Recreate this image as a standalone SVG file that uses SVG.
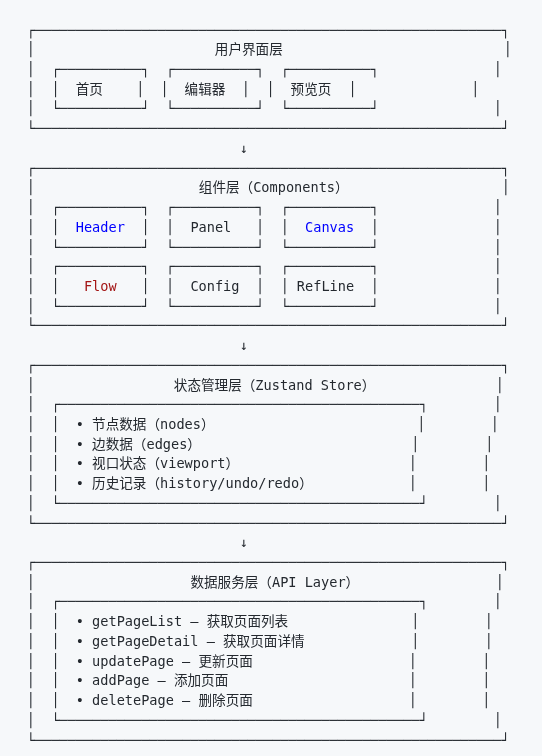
<svg xmlns="http://www.w3.org/2000/svg" width="542" height="756" viewBox="0 0 542 756" xml:space="preserve">
<style>
text{font-family:"DejaVu Sans Mono","Noto Sans CJK SC",monospace;font-size:13.6px;fill:#24292f;white-space:pre}
.blue{fill:#0000ff}
.red{fill:#a31515}
</style>
<defs>
<filter id="gray" x="0" y="0" width="542" height="756" filterUnits="userSpaceOnUse"><feOffset dx="0" dy="0"/></filter>
</defs>
<rect width="542" height="756" fill="#f6f8fa"/>
<g filter="url(#gray)">
<g id="layer-ui">
<text x="26.6" y="34.6">┌─────────────────────────────────────────────────────────┐</text>
<text x="26.6" y="54.32">│</text><text x="214.8" y="54.32">用户界面层</text><text x="503.6" y="54.32">│</text>
<text x="26.6" y="74.04">│</text><text x="493.43" y="74.04">│</text>
<text x="26.6" y="93.76">│</text><text x="470.9" y="93.76">│</text>
<text x="26.6" y="113.48">│</text><text x="493.43" y="113.48">│</text>
<text x="26.6" y="133.2">└─────────────────────────────────────────────────────────┘</text>
</g>
<g id="node-home">
<text x="51.17" y="74.04">┌──────────┐</text>
<text x="51.17" y="93.76">│</text><text x="75.74" y="93.76">首页</text><text x="135.9" y="93.76">│</text>
<text x="51.17" y="113.48">└──────────┘</text>
</g>
<g id="node-editor">
<text x="165.83" y="74.04">┌──────────┐</text>
<text x="160.2" y="93.76">│</text><text x="184.6" y="93.76">编辑器</text><text x="241.6" y="93.76">│</text>
<text x="165.83" y="113.48">└──────────┘</text>
</g>
<g id="node-preview">
<text x="280.49" y="74.04">┌──────────┐</text>
<text x="266.2" y="93.76">│</text><text x="290.6" y="93.76">预览页</text><text x="348.2" y="93.76">│</text>
<text x="280.49" y="113.48">└──────────┘</text>
</g>

<g id="layer-components">
<text x="26.6" y="172.64">┌─────────────────────────────────────────────────────────┐</text>
<text x="26.6" y="192.36">│</text><text x="198.8" y="192.36">组件层（Components）</text><text x="501.6" y="192.36">│</text>
<text x="26.6" y="212.08">│</text><text x="493.43" y="212.08">│</text>
<text x="26.6" y="231.8">│</text><text x="493.43" y="231.8">│</text>
<text x="26.6" y="251.52">│</text><text x="493.43" y="251.52">│</text>
<text x="26.6" y="271.24">│</text><text x="493.43" y="271.24">│</text>
<text x="26.6" y="290.96">│</text><text x="493.43" y="290.96">│</text>
<text x="26.6" y="310.68">│</text><text x="493.43" y="310.68">│</text>
<text x="26.6" y="330.4">└─────────────────────────────────────────────────────────┘</text>
</g>
<g id="node-header">
<text x="51.17" y="212.08">┌──────────┐</text>
<text x="51.17" y="231.8">│  <tspan class="blue">Header</tspan>  │</text>
<text x="51.17" y="251.52">└──────────┘</text>
</g>
<g id="node-panel">
<text x="165.83" y="212.08">┌──────────┐</text>
<text x="165.83" y="231.8">│  Panel   │</text>
<text x="165.83" y="251.52">└──────────┘</text>
</g>
<g id="node-canvas">
<text x="280.49" y="212.08">┌──────────┐</text>
<text x="280.49" y="231.8">│  <tspan class="blue">Canvas</tspan>  │</text>
<text x="280.49" y="251.52">└──────────┘</text>
</g>
<g id="node-flow">
<text x="51.17" y="271.24">┌──────────┐</text>
<text x="51.17" y="290.96">│   <tspan class="red">Flow</tspan>   │</text>
<text x="51.17" y="310.68">└──────────┘</text>
</g>
<g id="node-config">
<text x="165.83" y="271.24">┌──────────┐</text>
<text x="165.83" y="290.96">│  Config  │</text>
<text x="165.83" y="310.68">└──────────┘</text>
</g>
<g id="node-refline">
<text x="280.49" y="271.24">┌──────────┐</text>
<text x="280.49" y="290.96">│ RefLine  │</text>
<text x="280.49" y="310.68">└──────────┘</text>
</g>

<g id="layer-store">
<text x="26.6" y="369.84">┌─────────────────────────────────────────────────────────┐</text>
<text x="26.6" y="389.56">│</text><text x="173.8" y="389.56">状态管理层（Zustand Store）</text><text x="495.6" y="389.56">│</text>
<text x="26.6" y="409.28">│</text><text x="493.43" y="409.28">│</text>
<text x="26.6" y="429">│</text><text x="490.6" y="429">│</text>
<text x="26.6" y="448.72">│</text><text x="484.9" y="448.72">│</text>
<text x="26.6" y="468.44">│</text><text x="481.9" y="468.44">│</text>
<text x="26.6" y="488.16">│</text><text x="481.9" y="488.16">│</text>
<text x="26.6" y="507.88">│</text><text x="493.43" y="507.88">│</text>
<text x="26.6" y="527.6">└─────────────────────────────────────────────────────────┘</text>
</g>
<g id="node-store-state">
<text x="51.17" y="409.28">┌────────────────────────────────────────────┐</text>
<text x="51.17" y="429">│  • 节点数据（nodes）</text><text x="416.9" y="429">│</text>
<text x="51.17" y="448.72">│  • 边数据（edges）</text><text x="410.9" y="448.72">│</text>
<text x="51.17" y="468.44">│  • 视口状态（viewport）</text><text x="408.6" y="468.44">│</text>
<text x="51.17" y="488.16">│  • 历史记录（history/undo/redo）</text><text x="408.6" y="488.16">│</text>
<text x="51.17" y="507.88">└────────────────────────────────────────────┘</text>
</g>

<g id="layer-api">
<text x="26.6" y="567.04">┌─────────────────────────────────────────────────────────┐</text>
<text x="26.6" y="586.76">│</text><text x="190.4" y="586.76">数据服务层（API Layer）</text><text x="495.6" y="586.76">│</text>
<text x="26.6" y="606.48">│</text><text x="493.43" y="606.48">│</text>
<text x="26.6" y="626.2">│</text><text x="484.6" y="626.2">│</text>
<text x="26.6" y="645.92">│</text><text x="484.6" y="645.92">│</text>
<text x="26.6" y="665.64">│</text><text x="481.9" y="665.64">│</text>
<text x="26.6" y="685.36">│</text><text x="481.9" y="685.36">│</text>
<text x="26.6" y="705.08">│</text><text x="481.9" y="705.08">│</text>
<text x="26.6" y="724.8">│</text><text x="493.43" y="724.8">│</text>
<text x="26.6" y="744.52">└─────────────────────────────────────────────────────────┘</text>
</g>
<g id="node-api-list">
<text x="51.17" y="606.48">┌────────────────────────────────────────────┐</text>
<text x="51.17" y="626.2">│  • getPageList – 获取页面列表</text><text x="410.9" y="626.2">│</text>
<text x="51.17" y="645.92">│  • getPageDetail – 获取页面详情</text><text x="410.9" y="645.92">│</text>
<text x="51.17" y="665.64">│  • updatePage – 更新页面</text><text x="408.6" y="665.64">│</text>
<text x="51.17" y="685.36">│  • addPage – 添加页面</text><text x="408.6" y="685.36">│</text>
<text x="51.17" y="705.08">│  • deletePage – 删除页面</text><text x="408.6" y="705.08">│</text>
<text x="51.17" y="724.8">└────────────────────────────────────────────┘</text>
</g>

<g id="connectors">
<text x="239.54" y="152.92">↓</text>
<text x="239.54" y="350.12">↓</text>
<text x="239.54" y="547.32">↓</text>
</g>
</g>
</svg>
